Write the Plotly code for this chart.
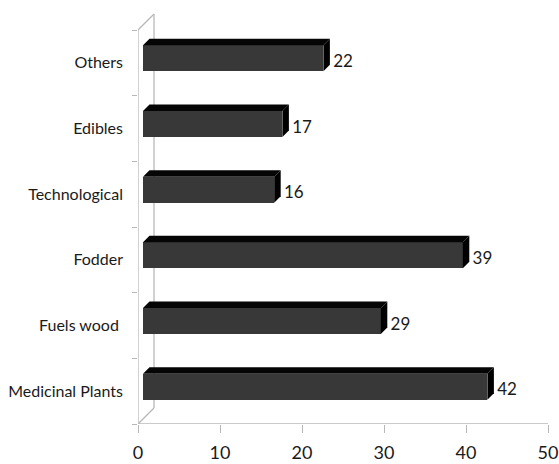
import plotly.graph_objects as go

# Uses of plant species, by category (bottom to top)
categories = ["Medicinal Plants", "Fuels wood\u00a0", "Fodder", "Technological", "Edibles", "Others"]
values = [42, 29, 39, 16, 17, 22]
x_ticks = [0, 10, 20, 30, 40, 50]

# pseudo-3D geometry (in data units)
PX_X = 410 / 50.0          # pixels per x unit
PX_Y = 394 / 6.0           # pixels per category band
wall_dx, wall_dy = 16 / PX_X, 16 / PX_Y     # back wall offset
fx, fy = 5 / PX_X, 4.5 / PX_Y               # bar front-face offset
ddx, ddy = 6.5 / PX_X, 6.5 / PX_Y           # bar depth
half = 0.198                                # half bar thickness

FONT = "Lato, sans-serif"
LINE = "#b8b8b8"

fig = go.Figure()

ypos = [i + fy for i in range(len(values))]

# front faces
fig.add_trace(go.Bar(
    y=ypos, x=values, base=fx, orientation="h", width=2 * half,
    marker=dict(color="#383838", line=dict(width=0)), hoverinfo="x",
    showlegend=False,
))

# top and end faces
for yc, v in zip(ypos, values):
    x0, x1 = fx, fx + v
    yt, yb = yc + half, yc - half
    fig.add_trace(go.Scatter(
        x=[x0, x1, x1 + ddx, x0 + ddx, x0],
        y=[yt, yt, yt + ddy, yt + ddy, yt],
        mode="lines", fill="toself", fillcolor="#050505",
        line=dict(width=0, color="#050505"), hoverinfo="skip", showlegend=False,
    ))
    fig.add_trace(go.Scatter(
        x=[x1, x1 + ddx, x1 + ddx, x1, x1],
        y=[yb, yb + ddy, yt + ddy, yt, yb],
        mode="lines", fill="toself", fillcolor="#000000",
        line=dict(width=0, color="#000000"), hoverinfo="skip", showlegend=False,
    ))

# value labels
fig.add_trace(go.Scatter(
    x=[fx + v + ddx + 0.4 for v in values], y=list(range(len(values))),
    mode="text", text=[str(v) for v in values], textposition="middle right",
    textfont=dict(family=FONT, size=17, color="#1a1a1a"),
    hoverinfo="skip", showlegend=False, cliponaxis=False,
))

# wall outline
lo, hi = -0.5, len(categories) - 0.5
shapes = [
    dict(type="line", x0=0, x1=0, y0=lo, y1=hi),
    dict(type="line", x0=0, x1=50, y0=lo, y1=lo),
    dict(type="line", x0=wall_dx, x1=wall_dx, y0=lo + wall_dy, y1=hi + wall_dy),
    dict(type="line", x0=0, x1=wall_dx, y0=lo, y1=lo + wall_dy),
    dict(type="line", x0=0, x1=wall_dx, y0=hi, y1=hi + wall_dy),
]
for s in shapes:
    s.update(xref="x", yref="y", line=dict(color=LINE, width=1.3), layer="below")

top_range = hi + 20 / PX_Y

fig.update_layout(
    width=559, height=464,
    margin=dict(l=138, r=11, t=10, b=40, autoexpand=False),
    plot_bgcolor="white", paper_bgcolor="white",
    shapes=shapes,
    font=dict(family=FONT, size=16, color="#1a1a1a"),
    xaxis=dict(
        range=[0, 50], tickvals=x_ticks, ticks="outside", ticklen=8,
        tickcolor=LINE, showgrid=False, zeroline=False, showline=False,
        tickfont=dict(size=18), ticklabelstandoff=4,
        fixedrange=True, automargin=False,
    ),
    yaxis=dict(
        range=[lo, top_range], tickvals=list(range(len(categories))),
        ticktext=categories, ticks="", showgrid=False, zeroline=False,
        showline=False, tickfont=dict(size=16), ticklabelstandoff=14,
        minor=dict(tickvals=[k - 0.5 for k in range(len(categories) + 1)],
                   ticks="outside", ticklen=5, tickcolor=LINE),
        fixedrange=True, automargin=False,
    ),
    bargap=0,
)

fig.write_html("out.html")
